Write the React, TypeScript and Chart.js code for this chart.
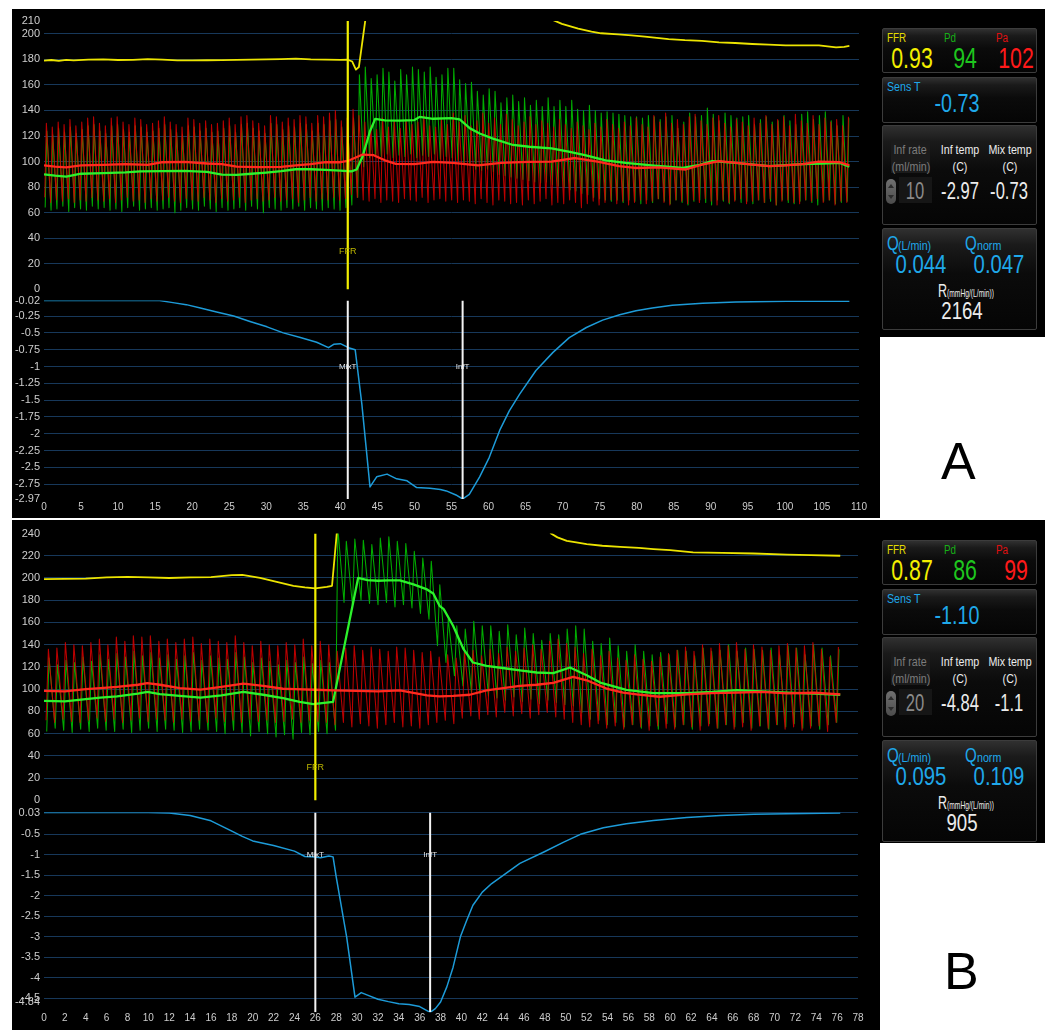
import React, { useEffect, useRef } from "react";
import { Chart, registerables } from "chart.js";

Chart.register(...registerables);

/* ======================= PANEL A ======================= */
const A_X_TICKS = [0, 5, 10, 15, 20, 25, 30, 35, 40, 45, 50, 55, 60, 65, 70, 75, 80, 85, 90, 95, 100, 105, 110];
const A_P_TICKS = [0, 20, 40, 60, 80, 100, 120, 140, 160, 180, 200, 210];
const A_P_GRID = [20, 40, 60, 80, 100, 120, 140, 160, 180, 200];
const A_T_TICKS = [-0.02, -0.25, -0.5, -0.75, -1, -1.25, -1.5, -1.75, -2, -2.25, -2.5, -2.75, -2.97];
const A_T_LABELS = ["-0.02", "-0.25", "-0.5", "-0.75", "-1", "-1.25", "-1.5", "-1.75", "-2", "-2.25", "-2.5", "-2.75", "-2.97"];
const A_T_GRID = [-0.25, -0.5, -0.75, -1, -1.25, -1.5, -1.75, -2, -2.25, -2.5, -2.75];

const A_BEAT_START = 0.1;
const A_BEAT_PERIOD = 0.796;

const A_PA_SYS = [
  130, 127, 131, 129, 133, 128, 131, 134, 135, 130,
  128, 134, 135, 131, 129, 134, 133, 129, 130, 132,
  135, 131, 129, 127, 134, 133, 130, 132, 129, 130,
  132, 134, 129, 135, 136, 132, 130, 128, 136, 135,
  131, 134, 133, 136, 135, 130, 136, 135, 138, 140,
  132, 134, 141, 136, 131, 128, 125, 134, 127, 132,
  126, 133, 129, 131, 136, 128, 127, 133, 129, 138,
  131, 136, 128, 132, 138, 130, 134, 129, 137, 133,
  128, 131, 135, 129, 132, 130, 127, 133, 129, 126,
  131, 128, 125, 130, 127, 133, 129, 126, 131, 128,
  134, 129, 127, 136, 131, 138, 130, 133, 129, 135,
  137, 132, 129, 134, 136, 130, 127, 133, 131, 128,
  134, 130, 136, 129, 133, 135, 128, 137, 132, 130,
  136, 129, 134, 131, 133, 128, 135,
];
const A_PA_DIA = [
  72, 68, 70, 69, 71, 68, 70, 69, 72, 70,
  69, 71, 68, 70, 72, 69, 70, 68, 71, 69,
  70, 72, 69, 68, 71, 70, 69, 72, 70, 68,
  71, 69, 70, 72, 68, 70, 71, 69, 70, 72,
  69, 70, 71, 68, 70, 72, 69, 71, 70, 72,
  70, 71, 74, 72, 70, 69, 71, 68, 70, 69,
  68, 71, 70, 69, 72, 68, 70, 71, 69, 70,
  68, 70, 69, 67, 71, 68, 66, 70, 69, 67,
  68, 66, 70, 67, 69, 71, 66, 68, 67, 70,
  68, 64, 67, 69, 66, 68, 70, 67, 69, 66,
  68, 70, 67, 69, 71, 68, 66, 70, 69, 67,
  70, 68, 71, 69, 66, 70, 68, 69, 71, 67,
  69, 70, 68, 71, 66, 69, 70, 68, 67, 70,
  69, 71, 68, 70, 66, 69, 68,
];
const A_PD_SYS = [
  124, 121, 126, 123, 127, 122, 125, 128, 129, 124,
  122, 128, 129, 125, 123, 128, 127, 123, 124, 126,
  129, 125, 123, 121, 128, 127, 124, 126, 123, 124,
  126, 128, 123, 129, 130, 126, 124, 122, 130, 129,
  125, 128, 127, 130, 129, 124, 130, 129, 132, 133,
  127, 128, 134, 168, 174, 165, 168, 173, 170, 163,
  172, 168, 174, 172, 170, 174, 166, 168, 173, 173,
  164, 161, 162, 155, 152, 157, 155, 146, 150, 152,
  147, 150, 144, 148, 143, 150, 143, 148, 143, 148,
  141, 140, 144, 140, 138, 139, 138, 137, 136, 135,
  135, 134, 136, 135, 133, 135, 136, 126, 131, 138,
  135, 136, 142, 137, 132, 138, 136, 134, 135, 136,
  129, 133, 135, 131, 132, 136, 132, 129, 137, 139,
  133, 136, 139, 132, 128, 136, 134,
];
const A_PD_DIA = [
  64, 62, 63, 65, 61, 64, 63, 62, 65, 63,
  64, 62, 63, 61, 64, 65, 62, 63, 64, 62,
  63, 64, 60, 62, 64, 63, 62, 65, 63, 61,
  64, 62, 63, 64, 62, 65, 63, 60, 64, 63,
  62, 64, 63, 65, 62, 64, 63, 62, 64, 63,
  62, 64, 66, 72, 96, 103, 105, 104, 106, 103,
  105, 104, 106, 103, 105, 104, 106, 102, 104, 103,
  101, 99, 97, 94, 93, 94, 92, 90, 89, 88,
  87, 86, 85, 84, 83, 84, 82, 81, 80, 78,
  77, 75, 74, 72, 71, 70, 69, 70, 68, 70,
  69, 67, 70, 68, 71, 69, 67, 70, 68, 66,
  69, 70, 68, 66, 70, 69, 67, 70, 68, 69,
  67, 70, 68, 69, 66, 70, 68, 67, 69, 70,
  68, 66, 69, 70, 67, 68, 69,
];

const A_PA_MEAN_T = [0, 1.5, 3, 5, 8, 11, 14, 16, 19, 22, 24, 26, 29, 32, 34, 36, 38, 40, 41, 42, 43, 44.5, 46, 47.5, 50, 52.5, 55.2, 58.6, 61.7, 65.3, 68.5, 71.7, 74.9, 77.6, 79.8, 83, 86.6, 88.8, 91.1, 93.5, 95.6, 97.9, 100, 102.4, 104.6, 107.4, 108.7];
const A_PA_MEAN = [97, 96, 95.5, 97, 97.5, 98, 97.5, 99.5, 99.7, 98.5, 98, 96, 95.6, 95.8, 97, 98, 99.5, 99.5, 100.5, 103, 105.5, 105, 101, 98.2, 98, 99.7, 99, 97, 99, 99.7, 100, 102.8, 99.7, 96.4, 95, 95.5, 93.8, 97.7, 100.3, 99, 97.7, 96.4, 97, 98, 100, 99.5, 97];
const A_PD_MEAN_T = [0, 1.5, 3, 5, 8, 11, 13, 16, 19, 22, 24, 26, 28, 30, 32, 34, 36, 38, 40, 41.5, 42.2, 43, 44, 44.7, 46, 48, 50, 50.7, 52.5, 55, 56.1, 57.5, 58.8, 60.6, 63.3, 65.5, 68.5, 70.8, 73, 75.8, 78.5, 82, 86.2, 88.5, 90.2, 93.3, 97.9, 102.4, 105, 107.4, 108.7];
const A_PD_MEAN = [90, 89, 88.3, 90.5, 91, 91.5, 92.4, 92.6, 92.8, 92, 89.8, 89.6, 90.5, 91.4, 92.5, 94, 94, 93.5, 93, 92.4, 93.8, 104, 123.7, 133.4, 132.3, 132, 132.5, 135, 133.5, 134, 133, 126, 122, 118, 113, 111.6, 110.4, 107.8, 105, 101, 99, 97, 95, 97.5, 100.3, 99, 96.4, 98, 98.5, 99, 96];

const A_FFR_T = [0, 1, 2, 3, 4, 6, 8, 10, 12, 14, 16, 18, 20, 22, 24, 26, 28, 30, 32, 34, 36, 38, 40, 41, 41.6, 42.1, 42.5, 43.4, 43.8, 68.6, 69.9, 72.1, 73.9, 75.2, 77.5, 79.3, 81.1, 82.7, 84.3, 86.5, 88.8, 91.1, 93.3, 95.6, 97.8, 100.1, 102.4, 104.6, 106.9, 108, 108.7];
const A_FFR = [179, 179.5, 178.8, 179.6, 179.2, 179.8, 180, 179.5, 179.6, 180.2, 179.8, 179.2, 179.2, 179.3, 179.4, 179.6, 179.8, 180, 180.2, 180.5, 180, 179.8, 179.6, 179.7, 178.3, 172, 174, 212, null, 211, 207.8, 204, 201.7, 200.4, 199.6, 198.7, 197.8, 196.8, 195.8, 195, 194.5, 193.3, 192.8, 192, 191.5, 191, 191, 191, 189.3, 189.8, 190.5];

const A_TEMP_T = [0, 5, 10, 15.6, 17.4, 19.2, 21.1, 23.3, 25.6, 27.8, 30.1, 32.3, 34.6, 36.8, 38.4, 39.1, 40, 41.1, 42, 42.9, 44, 44.9, 46.3, 47.6, 49, 50.3, 52.1, 53.5, 54.3, 55.6, 56.5, 57.4, 58.8, 60.1, 61.5, 62.8, 64.2, 66.4, 68.7, 70.9, 73.2, 75.4, 77.7, 79.9, 82.1, 84.8, 88.9, 93.4, 100.2, 108.7];
const A_TEMP = [-0.02, -0.02, -0.02, -0.02, -0.05, -0.08, -0.13, -0.19, -0.25, -0.33, -0.41, -0.5, -0.57, -0.64, -0.72, -0.67, -0.66, -0.72, -0.75, -1.56, -2.79, -2.64, -2.6, -2.67, -2.7, -2.8, -2.81, -2.83, -2.85, -2.91, -2.97, -2.9, -2.64, -2.35, -1.95, -1.66, -1.41, -1.06, -0.79, -0.57, -0.42, -0.31, -0.23, -0.17, -0.13, -0.09, -0.06, -0.04, -0.03, -0.03];

const A_FFR_MARK = 41.0;
const A_MIX_MARK = 41.0;
const A_INF_MARK = 56.5;

const A_READ = ["0.93", "94", "102", "-0.73", "10", "-2.97", "-0.73", "0.044", "0.047", "2164"];

/* ======================= PANEL B ======================= */
const B_X_TICKS = [0, 2, 4, 6, 8, 10, 12, 14, 16, 18, 20, 22, 24, 26, 28, 30, 32, 34, 36, 38, 40, 42, 44, 46, 48, 50, 52, 54, 56, 58, 60, 62, 64, 66, 68, 70, 72, 74, 76, 78];
const B_P_TICKS = [0, 20, 40, 60, 80, 100, 120, 140, 160, 180, 200, 220, 240];
const B_P_GRID = [20, 40, 60, 80, 100, 120, 140, 160, 180, 200, 220];
const B_T_TICKS = [0.03, -0.5, -1, -1.5, -2, -2.5, -3, -3.5, -4, -4.5, -4.84];
const B_T_LABELS = ["0.03", "-0.5", "-1", "-1.5", "-2", "-2.5", "-3", "-3.5", "-4", "-4.5", "-4.84"];
const B_T_GRID = [0.03, -0.5, -1, -1.5, -2, -2.5, -3, -3.5, -4, -4.5];

const B_BEAT_START = 0.2;
const B_BEAT_PERIOD = 0.814;

const B_PA_SYS = [
  136, 137, 142, 140, 139, 142, 145, 140, 147, 143,
  148, 147, 148, 143, 145, 142, 145, 147, 141, 145,
  143, 142, 148, 142, 139, 143, 140, 139, 142, 140,
  145, 139, 143, 140,
  134, 137, 139, 135, 138, 136, 134, 138, 137, 135,
  133, 134, 129, 131, 128, 133, 135, 130, 136, 132,
  138, 134, 137, 140, 136, 143, 145, 141, 138, 132,
  136, 130, 134, 128, 126, 131, 127, 125, 129, 132,
  135, 138, 134, 140, 137, 141, 139, 142, 136, 140,
  138, 135, 139, 141, 137, 139, 142, 136, 129, 138,
];
const B_PA_DIA = [
  72, 70, 73, 71, 70, 72, 74, 71, 73, 70,
  72, 74, 71, 73, 72, 70, 73, 71, 72, 70,
  74, 71, 72, 70, 73, 71, 72, 70, 71, 73,
  70, 72, 71, 70,
  68, 70, 66, 69, 67, 65, 68, 70, 66, 67,
  65, 68, 70, 72, 69, 74, 76, 73, 77, 75,
  79, 76, 78, 74, 77, 79, 75, 73, 70, 68,
  66, 69, 65, 67, 64, 68, 66, 63, 67, 65,
  64, 68, 66, 63, 67, 65, 68, 64, 66, 63,
  67, 65, 68, 64, 66, 63, 65, 67, 62, 70,
];
const B_PD_SYS = [
  128, 122, 126, 124, 129, 125, 131, 127, 132, 129,
  134, 130, 133, 128, 131, 127, 130, 133, 126, 130,
  128, 127, 133, 129, 124, 128, 125, 122, 126, 124,
  129, 123, 126, 124,
  245, 233, 235, 234, 230, 236, 237, 233, 231, 224,
  218, 215, 194, 163, 157, 154, 161, 157, 157, 152,
  158, 149, 155, 150, 144, 150, 149, 154, 157, 154,
  143, 141, 146, 139, 134, 140, 134, 131, 133, 131,
  135, 134, 130, 137, 134, 135, 140, 134, 137, 136,
  135, 137, 131, 139, 137, 131, 140, 137, 130, 136,
];
const B_PD_DIA = [
  62, 65, 63, 61, 64, 62, 65, 63, 62, 64,
  61, 63, 65, 62, 64, 63, 61, 62, 64, 63,
  62, 60, 63, 61, 58, 62, 60, 57, 59, 55,
  61, 59, 62, 60,
  63, 178, 175, 180, 177, 176, 178, 174, 176, 173,
  168, 163, 139, 124, 112, 103, 97, 96, 94, 92,
  90, 93, 89, 91, 87, 90, 88, 86, 85, 79,
  73, 72, 68, 70, 66, 68, 65, 67, 64, 69,
  66, 68, 64, 67, 69, 65, 68, 66, 70, 65,
  67, 64, 68, 66, 69, 65, 67, 64, 68, 70,
];

const B_PA_MEAN_T = [0, 2, 4, 5.4, 7, 9, 9.9, 11.1, 13, 15, 17, 19.1, 21, 22.9, 24, 26, 27.7, 30, 32, 34.1, 35.4, 36.7, 37.9, 39.2, 40.8, 42.4, 44, 45.6, 47.2, 48.8, 50.7, 52, 53.9, 55.5, 56.8, 59, 61.6, 64, 66.4, 68.8, 71.2, 73.8, 76.3];
const B_PA_MEAN = [98.5, 98, 100, 101, 102, 104, 105.5, 104, 101, 99.6, 102, 105, 103, 100.4, 100, 99.5, 99, 98.5, 98, 99, 96.7, 94.5, 93.5, 94, 95, 99, 101, 103, 104, 105.6, 111, 108, 100.6, 97, 95.3, 93.2, 95.3, 96.5, 97, 97.5, 96.3, 96.8, 95.3];
const B_PD_MEAN_T = [0, 2, 4, 5.4, 7, 9, 9.9, 11.1, 13, 15, 17, 19.1, 21, 22.9, 24.5, 25.8, 27.7, 30.1, 31, 32, 33, 34.1, 35.4, 36.7, 37.3, 37.9, 38.3, 39.2, 40.2, 41.1, 42.4, 44.3, 45.6, 47.2, 48.8, 50.4, 52, 53.3, 55.8, 58.4, 61.6, 64, 66.4, 68.8, 71.2, 73.8, 76.3];
const B_PD_MEAN = [89.5, 89, 91, 92.5, 93.5, 96, 97.6, 95.5, 94, 92.5, 94.5, 97.6, 95, 92, 88.6, 86.5, 88.6, 200, 198, 197.5, 197.8, 197.8, 194.2, 189.7, 186, 175, 172, 157, 136, 124, 121, 118.6, 117, 115, 114.4, 119.5, 112.6, 106, 99.4, 96.4, 96.4, 97.5, 99.1, 98, 97, 96, 95];

const B_FFR_T = [0, 2, 4, 6, 8, 10, 12, 14, 16, 18, 19, 20.7, 22.3, 23.9, 25, 26, 27.1, 27.6, 28.1, 28.4, 48.5, 49.2, 50.1, 51, 52, 53.5, 55.2, 57, 58.4, 60, 62.2, 65, 68, 71.2, 73.5, 76.3];
const B_FFR = [199, 199.2, 199.5, 200.5, 201, 200.5, 200, 200.5, 200.8, 202.5, 202.7, 200, 196.6, 193, 191.5, 190.6, 192, 193, 245, null, 240.5, 236.5, 233.4, 232, 230.4, 229, 228, 227, 226, 225, 223, 222.5, 222, 221, 220.5, 220];

const B_TEMP_T = [0, 5, 10, 12, 14, 16, 18, 19, 20, 22, 24, 25, 26, 26.5, 27.3, 27.7, 28, 29, 29.8, 30.4, 31, 32, 33, 34, 35, 36, 37, 37.5, 38, 38.6, 39.2, 39.9, 40.5, 41.1, 42, 42.9, 44, 45.6, 47.9, 49.8, 51.4, 53.6, 55.8, 58.4, 61.6, 64.8, 68, 71.2, 76.3];
const B_TEMP = [0.03, 0.03, 0.03, 0.02, -0.04, -0.17, -0.42, -0.55, -0.66, -0.77, -0.91, -1.04, -1.05, -1.07, -1.03, -1.05, -1.54, -3.0, -4.47, -4.36, -4.42, -4.52, -4.58, -4.63, -4.65, -4.7, -4.84, -4.75, -4.59, -4.22, -3.74, -3.0, -2.6, -2.23, -1.91, -1.7, -1.5, -1.21, -0.93, -0.69, -0.5, -0.34, -0.24, -0.16, -0.09, -0.04, -0.01, 0.005, 0.02];

const B_FFR_MARK = 26.0;
const B_MIX_MARK = 26.0;
const B_INF_MARK = 37.0;

const B_READ = ["0.87", "86", "99", "-1.10", "20", "-4.84", "-1.1", "0.095", "0.109", "905"];

/* ======================= helpers ======================= */
const FONT = '"Liberation Sans", Arial, sans-serif';
const GRID_COLOR = "#17385a";
const TICK_COLOR = "#cdcdcd";

const xy = (ts: number[], vs: (number | null)[]) => ts.map((t, i) => ({ x: t, y: vs[i] }));

function beats(sys: number[], dia: number[], start: number, period: number, rise: number) {
  const out: { x: number; y: number }[] = [];
  const n = Math.min(sys.length, dia.length);
  for (let i = 0; i < n; i++) {
    const t = start + i * period;
    out.push({ x: t, y: dia[i] });
    out.push({ x: t + rise, y: sys[i] });
  }
  return out;
}

function yScale(min: number, max: number, ticks: number[], labels: string[], grid: number[], hideLast = false) {
  return {
    type: "linear",
    min,
    max,
    afterBuildTicks: (axis: any) => {
      axis.ticks = ticks.map((v) => ({ value: v }));
    },
    afterFit: (axis: any) => {
      axis.width = 32;
    },
    ticks: {
      autoSkip: false,
      padding: 4,
      color: TICK_COLOR,
      font: { family: FONT, size: 11 },
      callback: (v: any) => {
        const i = ticks.indexOf(v);
        if (hideLast && i === ticks.length - 1) return "";
        return i >= 0 ? labels[i] : "";
      },
    },
    grid: {
      color: (ctx: any) => (ctx.tick && grid.includes(ctx.tick.value) ? GRID_COLOR : "rgba(0,0,0,0)"),
      lineWidth: 1,
      drawTicks: false,
    },
    border: { display: false },
  };
}

function labelPlugin(items: { t: number; v: number; text: string; color: string; size: number }[], lifted?: any) {
  return {
    id: "markerLabels",
    afterDatasetsDraw(chart: any) {
      const { ctx, scales, chartArea } = chart;
      ctx.save();
      ctx.textAlign = "center";
      ctx.textBaseline = "middle";
      items.forEach((it) => {
        ctx.font = `${it.size}px ${FONT}`;
        ctx.fillStyle = it.color;
        ctx.fillText(it.text, scales.x.getPixelForValue(it.t), scales.y.getPixelForValue(it.v));
      });
      if (lifted) {
        ctx.font = `11px ${FONT}`;
        ctx.fillStyle = TICK_COLOR;
        ctx.textAlign = "right";
        ctx.fillText(lifted.text, chartArea.left - 4, scales.y.getPixelForValue(lifted.v) - lifted.lift);
      }
      ctx.restore();
    },
  };
}

const line = (data: any[], color: string, width: number) => ({
  data,
  borderColor: color,
  borderWidth: width,
  pointRadius: 0,
  fill: false,
  tension: 0,
  spanGaps: false,
  borderJoinStyle: "round",
});

function pressureConfig(o: any) {
  return {
    type: "line",
    data: {
      datasets: [
        line([{ x: o.mark, y: 0 }, { x: o.mark, y: o.yMax }], "#f2ee00", 2.2),
        line(o.paMean, "#ff2a1f", 2.3),
        line(o.pdMean, "#2cf22c", 2.3),
        line(o.ffr, "#ece400", 1.8),
        line(o.paWave, "rgba(214,0,0,0.88)", 1.05),
        line(o.pdWave, "rgb(0,172,0)", 1.05),
      ],
    },
    options: {
      animation: false,
      responsive: false,
      devicePixelRatio: 1,
      events: [],
      layout: { padding: { top: o.padTop, bottom: o.padBottom, left: 0, right: o.padRight } },
      plugins: { legend: { display: false }, tooltip: { enabled: false } },
      scales: {
        x: { type: "linear", min: 0, max: o.xMax, display: false },
        y: yScale(0, o.yMax, o.ticks, o.ticks.map(String), o.grid),
      },
    },
    plugins: [labelPlugin([{ t: o.mark, v: 30, text: "FFR", color: "#bdb600", size: 9 }])],
  };
}

function tempConfig(o: any) {
  const last = o.ticks.length - 1;
  return {
    type: "line",
    data: {
      datasets: [
        line([{ x: o.mix, y: o.yMin }, { x: o.mix, y: o.yMax }], "#f4f4f4", 2),
        line([{ x: o.inf, y: o.yMin }, { x: o.inf, y: o.yMax }], "#f4f4f4", 2),
        line(o.temp, "#1d9bd8", 1.5),
      ],
    },
    options: {
      animation: false,
      responsive: false,
      devicePixelRatio: 1,
      events: [],
      layout: { padding: { top: o.padTop, bottom: 0, left: 0, right: o.padRight } },
      plugins: { legend: { display: false }, tooltip: { enabled: false } },
      scales: {
        x: {
          type: "linear",
          min: 0,
          max: o.xMax,
          afterBuildTicks: (axis: any) => {
            axis.ticks = o.xTicks.map((v: number) => ({ value: v }));
          },
          afterFit: (axis: any) => {
            axis.height = o.axisH;
          },
          ticks: {
            autoSkip: false,
            maxRotation: 0,
            minRotation: 0,
            padding: o.xPad,
            color: TICK_COLOR,
            font: { family: FONT, size: 10 },
            callback: (v: any) => String(v),
          },
          grid: { display: false, drawTicks: false },
          border: { display: false },
        },
        y: yScale(o.yMin, o.yMax, o.ticks, o.labels, o.grid, o.lift > 0),
      },
    },
    plugins: [
      labelPlugin(
        [
          { t: o.mix, v: -1, text: "MixT", color: "#e8e8e8", size: 8 },
          { t: o.inf, v: -1, text: "InfT", color: "#e8e8e8", size: 8 },
        ],
        o.lift > 0 ? { text: o.labels[last], v: o.ticks[last], lift: o.lift } : null
      ),
    ],
  };
}

function ChartCanvas({ left, top, width, height, build }: any) {
  const ref = useRef<HTMLCanvasElement | null>(null);
  useEffect(() => {
    if (!ref.current) return;
    const chart = new Chart(ref.current, build());
    return () => chart.destroy();
  }, []);
  return (
    <div style={{ position: "absolute", left, top, width, height }}>
      <canvas ref={ref} width={width} height={height} style={{ display: "block", width, height }} />
    </div>
  );
}

function Txt({ x, y, size, color, align = "l", sx = 0.82, children }: any) {
  const tr =
    align === "c" ? `translateX(-50%) scaleX(${sx})` : align === "r" ? `translateX(-100%) scaleX(${sx})` : `scaleX(${sx})`;
  const origin = align === "c" ? "center" : align === "r" ? "right" : "left";
  return (
    <div
      style={{
        position: "absolute",
        left: x,
        top: y - 0.13 * size,
        fontSize: size,
        lineHeight: 1,
        color,
        fontFamily: FONT,
        whiteSpace: "nowrap",
        transform: tr,
        transformOrigin: `${origin} top`,
      }}
    >
      {children}
    </div>
  );
}

function Box({ top, h }: any) {
  return (
    <div
      style={{
        position: "absolute",
        left: 882,
        top,
        width: 155,
        height: h,
        boxSizing: "border-box",
        border: "1px solid #3c3c3c",
        borderRadius: 2,
        background: "linear-gradient(180deg, #303030 0%, #1a1a1a 16%, #0b0b0b 45%, #050505 100%)",
      }}
    />
  );
}

const YEL = "#f3ee00";
const GRN = "#1ec51e";
const RED = "#ff1a1a";
const BLU = "#1fa8ea";
const WHT = "#ececec";

function SidePanel({ outerTop, outerH, base, r }: any) {
  const b1 = base + 19.3;
  const b2 = base + 68.3;
  const b3 = base + 116;
  const b4 = base + 219.3;
  return (
    <>
      <div style={{ position: "absolute", left: 870, top: outerTop, width: 175, height: outerH, background: "#000" }} />
      <Box top={b1} h={45} />
      <Box top={b2} h={45.5} />
      <Box top={b3} h={100} />
      <Box top={b4} h={101.7} />
      <Txt x={886.5} y={b1 + 5} size={12} color="#e2dc00">FFR</Txt>
      <Txt x={944} y={b1 + 5} size={12} color="#17b017">Pd</Txt>
      <Txt x={996} y={b1 + 5} size={12} color="#e01010">Pa</Txt>
      <Txt x={912} y={b1 + 18.5} size={30} sx={0.71} align="c" color={YEL}>{r[0]}</Txt>
      <Txt x={965} y={b1 + 18.5} size={30} sx={0.71} align="c" color={GRN}>{r[1]}</Txt>
      <Txt x={1016} y={b1 + 18.5} size={30} sx={0.71} align="c" color={RED}>{r[2]}</Txt>

      <Txt x={886.5} y={b2 + 4.5} size={13} color={BLU}>Sens T</Txt>
      <Txt x={957} y={b2 + 16} size={26} sx={0.76} align="c" color={BLU}>{r[3]}</Txt>

      <div style={{ position: "absolute", left: 890.5, top: b3 + 15, width: 39.5, height: 33, background: "#1b1b1b" }} />
      <Txt x={910} y={b3 + 20} size={13} align="c" color="#7c7c7c">Inf rate</Txt>
      <Txt x={910.5} y={b3 + 36.5} size={13} align="c" color="#7c7c7c">(ml/min)</Txt>
      <Txt x={960} y={b3 + 20} size={13} align="c" color={WHT}>Inf temp</Txt>
      <Txt x={960} y={b3 + 36.5} size={13} align="c" color={WHT}>(C)</Txt>
      <Txt x={1010} y={b3 + 20} size={13} align="c" color={WHT}>Mix temp</Txt>
      <Txt x={1010} y={b3 + 36.5} size={13} align="c" color={WHT}>(C)</Txt>
      <div
        style={{
          position: "absolute",
          left: 886,
          top: b3 + 53.5,
          width: 10,
          height: 25,
          borderRadius: 5,
          background: "linear-gradient(180deg, #707070, #4c4c4c)",
        }}
      >
        <div style={{ position: "absolute", left: 2, top: 5, width: 0, height: 0, borderLeft: "3px solid transparent", borderRight: "3px solid transparent", borderBottom: "4px solid #2c2c2c" }} />
        <div style={{ position: "absolute", left: 2, top: 16, width: 0, height: 0, borderLeft: "3px solid transparent", borderRight: "3px solid transparent", borderTop: "4px solid #2c2c2c" }} />
      </div>
      <div style={{ position: "absolute", left: 899, top: b3 + 52, width: 33, height: 26, background: "#161616" }} />
      <Txt x={915} y={b3 + 58.3} size={23} sx={0.72} align="c" color="#8a8a8a">{r[4]}</Txt>
      <Txt x={959.5} y={b3 + 58.3} size={23} sx={0.72} align="c" color={WHT}>{r[5]}</Txt>
      <Txt x={1009} y={b3 + 58.3} size={23} sx={0.72} align="c" color={WHT}>{r[6]}</Txt>

      <Txt x={886.5} y={b4 + 6.5} size={21} sx={0.72} color={BLU}>Q</Txt>
      <Txt x={898} y={b4 + 12} size={13} color={BLU}>(L/min)</Txt>
      <Txt x={965} y={b4 + 6.5} size={21} sx={0.72} color={BLU}>Q</Txt>
      <Txt x={976.5} y={b4 + 12} size={13} color={BLU}>norm</Txt>
      <Txt x={920.5} y={b4 + 26.5} size={26} sx={0.78} align="c" color={BLU}>{r[7]}</Txt>
      <Txt x={999} y={b4 + 26.5} size={26} sx={0.78} align="c" color={BLU}>{r[8]}</Txt>
      <Txt x={938} y={b4 + 55.5} size={19} sx={0.66} color={WHT}>R</Txt>
      <Txt x={947} y={b4 + 61.2} size={11} sx={0.61} color={WHT}>(mmHg/(L/min))</Txt>
      <Txt x={962} y={b4 + 74.5} size={23} sx={0.81} align="c" color={WHT}>{r[9]}</Txt>
    </>
  );
}

/* ======================= App ======================= */
export default function App() {
  const aUpper = () =>
    pressureConfig({
      xMax: 110,
      yMax: 210,
      ticks: A_P_TICKS,
      grid: A_P_GRID,
      padTop: 12,
      padBottom: 10,
      padRight: 19,
      mark: A_FFR_MARK,
      paMean: xy(A_PA_MEAN_T, A_PA_MEAN),
      pdMean: xy(A_PD_MEAN_T, A_PD_MEAN),
      ffr: xy(A_FFR_T, A_FFR),
      paWave: beats(A_PA_SYS, A_PA_DIA, A_BEAT_START, A_BEAT_PERIOD, 0.22),
      pdWave: beats(A_PD_SYS, A_PD_DIA, A_BEAT_START + 0.06, A_BEAT_PERIOD, 0.22),
    });
  const aLower = () =>
    tempConfig({
      xMax: 110,
      xTicks: A_X_TICKS,
      yMin: -2.97,
      yMax: -0.02,
      ticks: A_T_TICKS,
      labels: A_T_LABELS,
      grid: A_T_GRID,
      padTop: 9.5,
      padRight: 19,
      axisH: 19,
      xPad: 2,
      lift: 0,
      mix: A_MIX_MARK,
      inf: A_INF_MARK,
      temp: xy(A_TEMP_T, A_TEMP),
    });
  const bUpper = () =>
    pressureConfig({
      xMax: 78,
      yMax: 240,
      ticks: B_P_TICKS,
      grid: B_P_GRID,
      padTop: 12.5,
      padBottom: 9.7,
      padRight: 20,
      mark: B_FFR_MARK,
      paMean: xy(B_PA_MEAN_T, B_PA_MEAN),
      pdMean: xy(B_PD_MEAN_T, B_PD_MEAN),
      ffr: xy(B_FFR_T, B_FFR),
      paWave: beats(B_PA_SYS, B_PA_DIA, B_BEAT_START, B_BEAT_PERIOD, 0.22),
      pdWave: beats(B_PD_SYS, B_PD_DIA, B_BEAT_START + 0.06, B_BEAT_PERIOD, 0.22),
    });
  const bLower = () =>
    tempConfig({
      xMax: 78,
      xTicks: B_X_TICKS,
      yMin: -4.84,
      yMax: 0.03,
      ticks: B_T_TICKS,
      labels: B_T_LABELS,
      grid: B_T_GRID,
      padTop: 10.3,
      padRight: 20,
      axisH: 17.7,
      xPad: 0,
      lift: 10,
      mix: B_MIX_MARK,
      inf: B_INF_MARK,
      temp: xy(B_TEMP_T, B_TEMP),
    });

  return (
    <div style={{ position: "absolute", left: 0, top: 0, width: 1049, height: 1030, background: "#fff", overflow: "hidden" }}>
      {/* Panel A */}
      <div style={{ position: "absolute", left: 12, top: 9, width: 868, height: 509, background: "#000" }} />
      <SidePanel outerTop={9} outerH={328} base={9} r={A_READ} />
      <ChartCanvas left={12} top={9} width={866} height={291} build={aUpper} />
      <ChartCanvas left={12} top={290} width={866} height={228} build={aLower} />
      <Txt x={941} y={442} size={52} sx={1} color="#000">A</Txt>

      {/* Panel B */}
      <div style={{ position: "absolute", left: 12, top: 520, width: 868, height: 510, background: "#000" }} />
      <SidePanel outerTop={520} outerH={323} base={521} r={B_READ} />
      <ChartCanvas left={12} top={521} width={866} height={290} build={bUpper} />
      <ChartCanvas left={12} top={802} width={866} height={228} build={bLower} />
      <Txt x={944} y={952} size={52} sx={1} color="#000">B</Txt>
    </div>
  );
}
